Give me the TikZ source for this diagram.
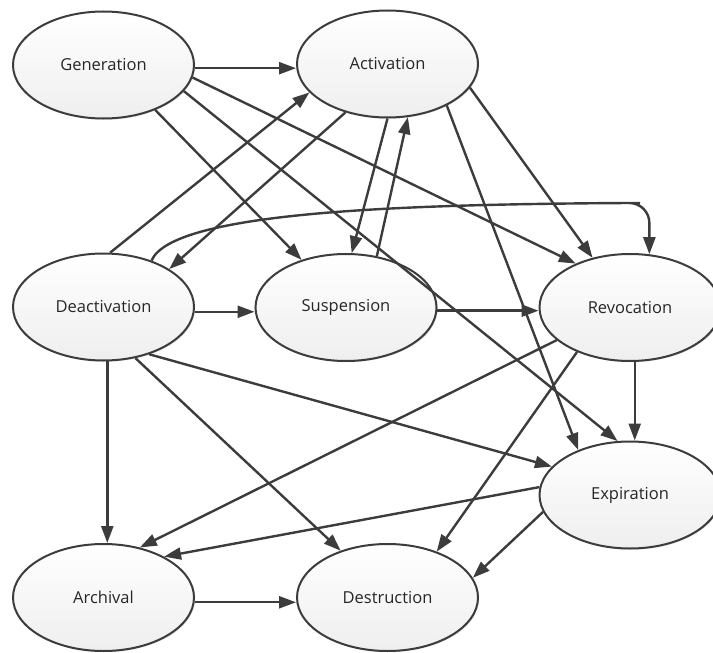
\documentclass[tikz,border=0pt]{standalone}
\usepackage{fontspec}
\setmainfont{Open Sans}
\usetikzlibrary{arrows.meta,shapes.geometric,shadows}
\definecolor{edgecol}{HTML}{3C3C3C}
\begin{document}
\begin{tikzpicture}[x=1pt,y=-1pt,
  state/.style={ellipse, draw=edgecol, line width=2pt, minimum width=181pt, minimum height=107pt,
    inner sep=0pt, top color=white, bottom color=gray!13, text=black!85,
    font=\fontsize{16.5}{19}\selectfont,
    drop shadow={shadow xshift=1.2pt, shadow yshift=-1.2pt, opacity=0.25, fill=gray}},
  arr/.style={draw=edgecol, line width=2.4pt, -{Triangle[length=17pt,width=12pt]}}]
\useasboundingbox (0,0) rectangle (713,653);
\node[state] (gen)   at (103.5,65)   {Generation};
\node[state] (act)   at (387.5,64)   {Activation};
\node[state] (deact) at (103.5,307)  {Deactivation};
\node[state] (susp)  at (346,307.5)  {Suspension};
\node[state] (rev)   at (630,307.5)  {Revocation};
\node[state] (exp)   at (630,495)    {Expiration};
\node[state] (arch)  at (103.5,597.5){Archival};
\node[state] (dest)  at (387.5,597.5){Destruction};
\coordinate (cc) at (0,203);
\draw[arr] (gen.-2.5) -- (gen.-2.5 -| act.west);
\draw[arr] (gen.-41) -- (susp.133);
\draw[arr] (gen.-18.5) -- (exp.103);
\draw[arr] (gen.-8) -- (rev.141);
\draw[arr] (act.-131) -- (deact.30);
\draw[arr] (deact.83) -- (act.200);
\draw[arr] (act.-90) -- (susp.84);
\draw[arr] (susp.59) -- (act.-69);
\draw[arr] (act.-35) -- (exp.139);
\draw[arr] (act.-16) -- (rev.127);
\draw[arr, rounded corners=20pt] (deact.44) .. controls (172,212) and (400,205) .. (620,203) -- (rev.70 |- cc) -- (rev.70);
\draw[arr] (deact.-3) -- (deact.-3 -| susp.west);
\draw[arr] (susp.-2) -- (susp.-2 -| rev.west);
\draw[arr] (deact.-86) -- (deact.-86 |- arch.north);
\draw[arr] (deact.-58) -- (dest.135);
\draw[arr] (deact.-46) -- (exp.160);
\draw[arr] (rev.-156) -- (arch.54);
\draw[arr] (rev.-140) -- (dest.43);
\draw[arr] (rev.-85) -- (rev.-85 |- exp.north);
\draw[arr] (exp.175) -- (arch.34);
\draw[arr] (exp.-169) -- (dest.13);
\draw[arr] (arch.-3.5) -- (arch.-3.5 -| dest.west);
\end{tikzpicture}
\end{document}
